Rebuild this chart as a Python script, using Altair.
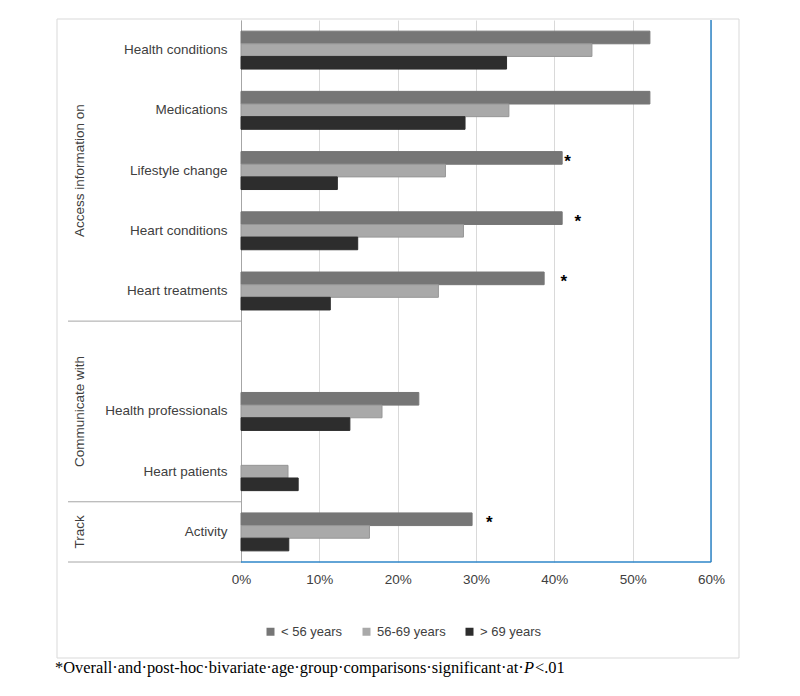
import altair as alt
import pandas as pd

# ---------------- data ----------------
categories = ["Health conditions", "Medications", "Lifestyle change", "Heart conditions",
              "Heart treatments", " ", "Health professionals", "Heart patients", "Activity"]
bar_categories = ["Health conditions", "Medications", "Lifestyle change", "Heart conditions",
                  "Heart treatments", "Health professionals", "Heart patients", "Activity"]
groups = ["< 56 years", "56-69 years", "> 69 years"]
under_56 = [52.2, 52.2, 41.0, 41.0, 38.7, 22.7, 0.0, 29.5]
age_56_69 = [44.8, 34.2, 26.1, 28.4, 25.2, 18.0, 6.0, 16.4]
over_69 = [33.9, 28.6, 12.3, 14.9, 11.4, 13.9, 7.3, 6.1]
star_categories = ["Lifestyle change", "Heart conditions", "Heart treatments", "Activity"]
star_x = [41.7, 43.0, 41.2, 31.7]
section_labels = ["Access information on", "Communicate with", "Track"]
section_bounds = [(0, 5), (5, 8), (8, 9)]
x_ticks = [0, 10, 20, 30, 40, 50, 60]
footnote_parts = ["*Overall·and·post-hoc·bivariate·age·group·comparisons·significant·at·", "P", "<.01"]

colors_fill = ["#767676", "#a9a9a9", "#2d2d2d"]
colors_stroke = ["#767676", "#969696", "#2d2d2d"]

rows = []
for series, name in zip([under_56, age_56_69, over_69], groups):
    for c, v in zip(bar_categories, series):
        rows.append({"category": c, "group": name, "value": v})
df = pd.DataFrame(rows)
stars = pd.DataFrame({"category": star_categories, "x": star_x, "group": [groups[0]] * len(star_x)})

# ---------------- layout ----------------
W, H = 470, 542
step = H / len(categories)
FONT = "Liberation Sans"
LABEL_COLOR = "#404040"
BLUE = "#2e86c9"
GREY_LINE = "#a6a6a6"

y_enc = alt.Y("category:N", sort=categories,
              scale=alt.Scale(domain=categories, paddingInner=0.37, paddingOuter=0.185),
              axis=alt.Axis(title=None, ticks=False, domainColor=GREY_LINE, labelPadding=14,
                            labelFontSize=13.5, labelFont=FONT, labelColor=LABEL_COLOR, grid=False))
yoff_enc = alt.YOffset("group:N", sort=groups,
                       scale=alt.Scale(domain=groups, paddingInner=0, paddingOuter=0))

one = alt.Data(values=[{}])

border = alt.Chart(one).mark_rect(fillOpacity=0, stroke="#d9d9d9", strokeWidth=1).encode(
    x=alt.value(-184), x2=alt.value(498), y=alt.value(-1), y2=alt.value(638))

bars = alt.Chart(df).mark_bar(strokeWidth=1).encode(
    x=alt.X("value:Q", scale=alt.Scale(domain=[0, 60], nice=False),
            axis=alt.Axis(values=x_ticks, labelExpr="datum.value + '%'", title=None, ticks=False,
                          domain=False, grid=True, gridColor="#d9d9d9", labelPadding=10,
                          labelFlush=False, labelFontSize=13.5, labelFont=FONT,
                          labelColor=LABEL_COLOR)),
    y=y_enc,
    yOffset=yoff_enc,
    color=alt.Color("group:N", sort=groups, scale=alt.Scale(domain=groups, range=colors_fill),
                    legend=alt.Legend(orient="none", legendX=23, legendY=605, direction="horizontal",
                                      title=None, symbolType="square", symbolSize=64,
                                      symbolStrokeWidth=0, labelFontSize=13, labelFont=FONT,
                                      labelColor=LABEL_COLOR, columnPadding=17, labelOffset=4,
                                      padding=0)),
    stroke=alt.Stroke("group:N", sort=groups, scale=alt.Scale(domain=groups, range=colors_stroke),
                      legend=None),
).transform_filter("datum.value > 0")

star_layer = alt.Chart(stars).mark_text(text="*", fontSize=17, fontWeight="bold", font="Liberation Sans",
                                        color="black", align="center", baseline="middle", dy=4).encode(
    x=alt.X("x:Q"), y=alt.Y("category:N", sort=categories), yOffset=alt.YOffset("group:N", sort=groups))

right_rule = alt.Chart(one).mark_rule(color=BLUE, strokeWidth=1.5).encode(
    x=alt.value(W), y=alt.value(0), y2=alt.value(H))
bottom_rule = alt.Chart(one).mark_rule(color=BLUE, strokeWidth=1.5).encode(
    x=alt.value(0), x2=alt.value(W), y=alt.value(H))

sep_layers = []
for b in [section_bounds[0][1], section_bounds[1][1], section_bounds[2][1]]:
    sep_layers.append(alt.Chart(one).mark_rule(color=GREY_LINE, strokeWidth=1).encode(
        x=alt.value(-173), x2=alt.value(0), y=alt.value(b * step)))

sec_layers = []
for lab, (a, b) in zip(section_labels, section_bounds):
    sec_layers.append(alt.Chart(one).mark_text(text=lab, angle=270, fontSize=13.5, font=FONT,
                                               color=LABEL_COLOR, align="center", baseline="middle").encode(
        x=alt.value(-161), y=alt.value((a + b) / 2 * step)))

foot_y = 653
foot1 = alt.Chart(one).mark_text(text=footnote_parts[0], font="Liberation Serif", fontSize=16.4,
                                 color="black", align="left", baseline="alphabetic").encode(
    x=alt.value(-186), y=alt.value(foot_y))
foot2 = alt.Chart(one).mark_text(text=footnote_parts[1], font="Liberation Serif", fontSize=16.4,
                                 fontStyle="italic", color="black", align="left",
                                 baseline="alphabetic").encode(x=alt.value(283), y=alt.value(foot_y))
foot3 = alt.Chart(one).mark_text(text=footnote_parts[2], font="Liberation Serif", fontSize=16.4,
                                 color="black", align="left", baseline="alphabetic").encode(
    x=alt.value(294), y=alt.value(foot_y))

chart = alt.layer(border, bars, star_layer, right_rule, bottom_rule, *sep_layers, *sec_layers,
                  foot1, foot2, foot3).properties(
    width=W, height=H,
    autosize=alt.AutoSizeParams(type="none"),
    padding={"left": 233, "top": 12, "right": 70, "bottom": 125},
).configure_view(stroke=None)

chart.save("out.html", embed_options={"renderer": "svg", "actions": False})
